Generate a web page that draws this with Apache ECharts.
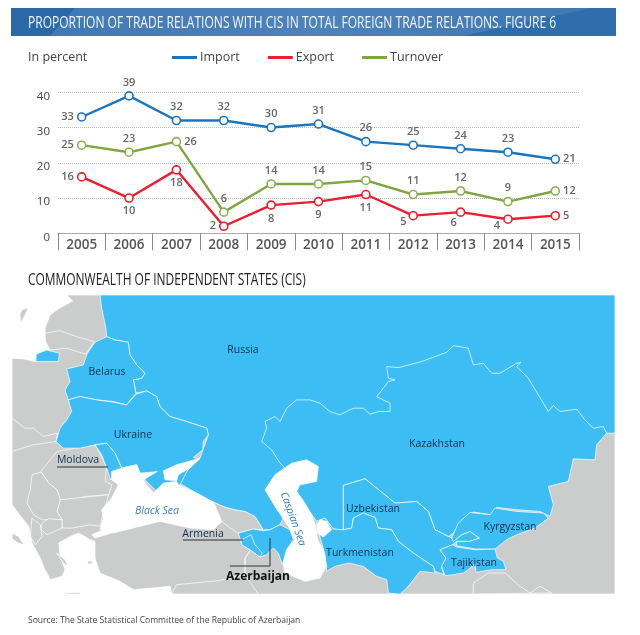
<!DOCTYPE html>
<html><head><meta charset="utf-8">
<style>html,body{margin:0;padding:0;background:#fff}#c{width:640px;height:635px}</style>
<script src="https://cdn.jsdelivr.net/npm/echarts@6/dist/echarts.min.js"></script></head>
<body><div id="c"></div>
<script>
const years=['2005','2006','2007','2008','2009','2010','2011','2012','2013','2014','2015'];
const importVals=[33,39,32,32,30,31,26,25,24,23,21];
const exportVals=[16,10,18,2,8,9,11,5,6,4,5];
const turnoverVals=[25,23,26,6,14,14,15,11,12,9,12];
const yTicks=[0,10,20,30,40];
const titleText='PROPORTION OF TRADE RELATIONS WITH CIS IN TOTAL FOREIGN TRADE RELATIONS. FIGURE 6';
const mapTitle='COMMONWEALTH OF INDEPENDENT STATES (CIS)';
const sourceText='Source: The State Statistical Committee of the Republic of Azerbaijan';

const importPos=['left','top','top','top','top','top','top','top','top','top','right'];
const exportPos=['left','bottom','bottom','left','bottom','bottom','bottom','a','b','c','right'];
const turnoverPos=['left','top','right','top','top','top','top','top','top','top','right'];
const posMap={a:{position:'left',offset:[1,6]},b:{position:'bottom',offset:[-7,-3]},c:{position:'left',offset:[0,7]}};

const BLUE='#3cbef5',GRAY='#cbcccc',WHITE='#ffffff';
// map shapes, in a local geographic-style grid
const shapes=[
 ['Land',GRAY,[[36,90],[1845,90],[1845,988],[36,988]]],
 ['Baltic',WHITE,[[36,90],[200,90],[218,108],[178,130],[150,150],[135,190],[137,230],[152,255],[145,262],[108,268],[105,290],[70,282],[36,280]]],
 ['Gotland',GRAY,[[65,135],[85,128],[75,150],[62,175],[60,150]]],
 ['Latvia',GRAY,[[135,205],[180,197],[230,215],[282,230],[258,268],[200,250],[150,255],[137,230]]],
 ['Czechia',GRAY,[[36,460],[75,490],[100,490],[130,515],[172,505],[168,530],[100,540],[36,560]]],
 ['Romania',GRAY,[[123,620],[171,560],[286,540],[319,605],[316,650],[336,660],[326,690],[256,695],[216,710],[181,705],[171,675],[146,655]]],
 ['Bulgaria',GRAY,[[181,705],[256,697],[326,690],[306,760],[301,785],[271,780],[216,790],[186,790],[186,765],[171,740]]],
 ['Serbia',GRAY,[[96,630],[123,622],[146,655],[171,675],[181,705],[171,740],[186,765],[126,765],[101,750],[81,715],[91,675]]],
 ['Macedonia',GRAY,[[126,775],[146,762],[186,765],[186,790],[141,810],[124,795]]],
 ['Albania',GRAY,[[96,760],[121,780],[126,815],[106,840],[91,815]]],
 ['Georgia',GRAY,[[675,727],[705,735],[735,740],[765,755],[790,795],[760,793],[715,805],[690,790],[665,770],[640,712]]],
 ['TurkeyEast',GRAY,[[750,858],[735,880],[735,930],[735,880]]],
 ['Syria',GRAY,[[515,988],[530,960],[655,948],[735,930],[775,988]]],
 ['Pakistan',GRAY,[[1420,988],[1420,955],[1465,925],[1515,925],[1560,965],[1590,985],[1620,965],[1655,985]]],
 ['Russia',BLUE,[[300,90],[1845,90],[1845,505],[1820,505],[1700,500],[1000,550],[900,650],[840,780],[810,795],[790,795],[765,755],[735,740],[705,735],[675,727],[640,712],[580,680],[530,650],[560,620],[600,580],[625,510],[620,490],[560,470],[510,455],[480,425],[470,395],[440,378],[408,385],[400,345],[425,340],[435,325],[410,300],[390,270],[385,232],[345,225],[320,215],[318,190],[305,130]]],
 ['Kaliningrad',BLUE,[[108,268],[140,255],[178,265],[175,290],[108,290]]],
 ['Belarus',BLUE,[[200,312],[250,300],[262,265],[285,232],[320,215],[345,225],[385,232],[390,270],[410,300],[435,325],[425,340],[400,345],[408,385],[380,420],[340,410],[290,405],[240,395],[205,405],[195,375],[210,350]]],
 ['Ukraine',BLUE,[[205,405],[240,395],[290,405],[340,412],[380,420],[408,388],[440,378],[470,395],[480,425],[510,455],[560,470],[620,490],[625,510],[610,530],[608,555],[580,578],[600,582],[565,612],[540,660],[480,690],[440,650],[420,625],[410,600],[365,610],[345,565],[320,535],[285,540],[240,550],[190,550],[168,530],[180,490],[200,465],[215,440]]],
 ['Moldova',BLUE,[[285,540],[320,535],[345,565],[365,610],[332,645],[320,610],[305,570]]],
 ['Kazakhstan',BLUE,[[855,610],[840,595],[815,555],[785,530],[800,490],[795,470],[825,455],[840,470],[860,430],[890,405],[930,405],[960,415],[990,440],[1020,450],[1060,430],[1090,430],[1110,448],[1135,440],[1170,440],[1170,415],[1130,395],[1150,370],[1165,350],[1185,345],[1165,340],[1160,305],[1195,308],[1265,290],[1340,262],[1360,242],[1405,250],[1420,300],[1450,295],[1475,325],[1500,325],[1550,295],[1563,292],[1550,305],[1585,340],[1645,440],[1660,422],[1680,440],[1730,433],[1755,465],[1780,490],[1810,485],[1820,505],[1790,540],[1785,585],[1720,582],[1705,650],[1645,665],[1660,720],[1650,755],[1620,740],[1550,735],[1490,728],[1475,750],[1420,742],[1395,765],[1355,810],[1345,815],[1305,795],[1285,740],[1250,710],[1185,715],[1095,642],[1030,662],[1030,795],[1000,793],[975,760],[950,770],[900,700]]],
 ['Uzbekistan',BLUE,[[1030,662],[1095,642],[1185,715],[1250,710],[1285,740],[1305,795],[1345,815],[1355,820],[1360,830],[1385,810],[1410,800],[1438,820],[1410,830],[1370,830],[1358,840],[1320,855],[1338,880],[1325,910],[1332,930],[1305,920],[1300,905],[1240,865],[1195,830],[1175,795],[1135,790],[1125,758],[1090,745],[1060,760],[1055,790],[1030,795]]],
 ['Turkmenistan',BLUE,[[1030,795],[1055,790],[1060,760],[1090,745],[1125,758],[1135,790],[1175,795],[1195,830],[1240,865],[1300,905],[1305,925],[1260,920],[1220,970],[1200,988],[1165,985],[1160,945],[1130,935],[1090,905],[1045,895],[1005,905],[980,920],[975,870],[955,800],[950,770],[975,760],[1000,793]]],
 ['Kyrgyzstan',BLUE,[[1355,820],[1375,775],[1410,743],[1470,750],[1485,730],[1550,740],[1630,745],[1645,760],[1605,790],[1550,810],[1520,825],[1485,853],[1425,853],[1370,843],[1370,830],[1410,830],[1438,820],[1410,800],[1385,810],[1360,830]]],
 ['Tajikistan',BLUE,[[1320,855],[1358,840],[1370,847],[1425,855],[1485,853],[1492,880],[1510,890],[1518,915],[1475,915],[1428,923],[1425,897],[1405,915],[1390,925],[1360,930],[1335,933],[1325,905],[1338,880]]],
 ['Azerbaijan',BLUE,[[715,805],[760,793],[790,798],[810,795],[840,780],[870,795],[880,825],[860,855],[847,900],[835,865],[820,850],[800,870],[780,877],[750,855],[725,840]]],
 ['Armenia',BLUE,[[725,825],[753,810],[765,840],[787,865],[780,877],[750,855],[725,840]]],
 ['BlackSea',WHITE,[[305,735],[335,700],[355,660],[335,645],[335,620],[365,610],[410,600],[420,625],[455,622],[472,620],[430,645],[445,665],[460,685],[490,655],[530,650],[535,660],[580,680],[640,712],[665,770],[640,795],[570,790],[480,770],[400,790],[340,805],[300,795],[310,760]]],
 ['Azov',WHITE,[[490,618],[530,600],[600,580],[565,612],[535,630],[530,648],[495,645]]],
 ['Marmara',WHITE,[[285,820],[345,802],[310,795],[275,810]]],
 ['Med',WHITE,[[36,720],[86,785],[96,835],[121,880],[130,905],[151,945],[186,935],[195,915],[181,875],[176,835],[211,815],[236,805],[271,825],[285,830],[285,880],[300,925],[360,950],[400,975],[510,965],[515,988],[36,988]]],
 ['Heel',GRAY,[[36,805],[55,815],[72,840],[55,835],[36,822]]],
 ['Crete',GRAY,[[195,985],[240,983],[240,988],[195,988]]],
 ['Evia',GRAY,[[170,865],[195,885],[205,905],[190,895]]],
 ['Isle',GRAY,[[262,890],[275,888],[278,897],[265,898]]],
 ['Caspian',WHITE,[[795,675],[825,630],[875,595],[920,585],[955,605],[950,650],[900,660],[890,680],[915,715],[935,750],[947,785],[953,825],[970,855],[980,905],[960,940],[915,950],[855,925],[850,900],[860,855],[885,825],[865,785],[825,725]]],
 ['KaraBogaz',WHITE,[[950,780],[960,765],[980,770],[995,795],[970,817],[953,805]]]
];
const leaders=[[[57,467],[108,467]],[[183,540],[243,540]],[[230,566],[270,566]],[[270,538],[270,566]]];
const mapLabels=[
 ['Russia',243,350],['Belarus',107,372],['Ukraine',133,435],['Kazakhstan',437,444],['Uzbekistan',373,509],
 ['Turkmenistan',360,553],['Kyrgyzstan',510,527],['Tajikistan',474,563],['Moldova',78,460],['Armenia',203,534]
];

const geoJson={type:'FeatureCollection',features:shapes.map(s=>({type:'Feature',properties:{name:s[0]},
  geometry:{type:'Polygon',coordinates:[s[2].concat([s[2][0]]).map(p=>[p[0],-p[1]])]}}))};
echarts.registerMap('cis',geoJson);

function pts(vals,pos){return vals.map((v,i)=>{
  const p=posMap[pos[i]]||{position:pos[i]};
  return {value:v,label:p};});}
const IMPORT='#1b75bc',EXPORT='#ed1c2e',TURNOVER='#7fa63f';
const mkSeries=(name,color,vals,pos,border)=>({
  name,type:'line',data:pts(vals,pos),symbol:'circle',symbolSize:8,showSymbol:true,
  lineStyle:{color,width:2.4},itemStyle:{color:'#fff',borderColor:border||color,borderWidth:1.6},
  label:{show:true,color:'#666',fontFamily:'Open Sans',fontSize:11,fontWeight:600,distance:3},
  animation:false,z:3});

const txt=(text,x,y,size,color,o)=>Object.assign({type:'text',x,y,z:20,scaleX:(o&&o.sx)||1,rotation:(o&&o.rot)||0,
  style:{text,fill:color,fontSize:size,fontFamily:(o&&o.ff)||'Open Sans',fontWeight:(o&&o.fw)||'normal',fontStyle:(o&&o.fs)||'normal',
  align:(o&&o.al)||'left',verticalAlign:'middle'}});

const graphics=[
 {type:'rect',z:1,shape:{x:11,y:8,width:605,height:28},style:{fill:{type:'linear',x:0,y:0,x2:1,y2:0,colorStops:[{offset:0,color:'#3f78b3'},{offset:0.5,color:'#4d82bb'},{offset:1,color:'#3d77b2'}]}}},
 {type:'polygon',z:2,shape:{points:[[11,8],[75,8],[50,36],[11,36]]},style:{fill:'#2a68a8'}},
 {type:'polygon',z:2,shape:{points:[[592,8],[616,8],[616,36],[462,36]]},style:{fill:'#2f6dac'}},
 txt(titleText,28,23,16,'#f2f6fb',{sx:0.752}),
 txt('In percent',28,57,12.5,'#444'),
 txt(mapTitle,28,280,16,'#222',{sx:0.747}),
 txt(sourceText,28,620,9.5,'#444',{sx:0.90}),
 ...leaders.map(l=>({type:'line',z:19,shape:{x1:l[0][0],y1:l[0][1],x2:l[1][0],y2:l[1][1]},style:{stroke:'#333',lineWidth:1}})),
 ...mapLabels.map(l=>txt(l[0],l[1],l[2],10.5,'#10304e',{al:'center'})),
 txt('Azerbaijan',258,577,12,'#111',{al:'center',fw:'bold'}),
 txt('Black Sea',157,511,10.5,'#3a7fb8',{al:'center',fs:'italic'}),
 txt('Caspian Sea',293,519,10.5,'#3a7fb8',{al:'center',fs:'italic',rot:-70*Math.PI/180})
];

const chart=echarts.init(document.getElementById('c'),null,{renderer:'canvas'});
chart.setOption({
 animation:false,backgroundColor:'#fff',
 legend:{left:172,top:51,padding:0,itemWidth:25,itemHeight:3,itemGap:28,icon:'rect',
  textStyle:{color:'#444',fontSize:12.5,fontFamily:'Open Sans',padding:[0,0,0,-2]},
  data:[{name:'Import',itemStyle:{color:IMPORT,borderWidth:0}},{name:'Export',itemStyle:{color:EXPORT,borderWidth:0}},{name:'Turnover',itemStyle:{color:TURNOVER,borderWidth:0}}]},
 grid:{left:58,right:61,top:92.3,bottom:401.7},
 xAxis:{type:'category',data:years,boundaryGap:true,
  axisLine:{lineStyle:{color:'#aaa',width:1}},axisTick:{show:true,length:17,lineStyle:{color:'#888'}},
  axisLabel:{color:'#555',fontSize:13.5,fontWeight:600,fontFamily:'Open Sans',margin:5}},
 yAxis:{type:'value',min:0,max:40,interval:10,
  axisLine:{show:false},axisTick:{show:false},
  axisLabel:{color:'#444',fontSize:11.5,fontFamily:'Open Sans',margin:8,verticalAlign:'top',lineHeight:8,
    formatter:v=>yTicks.includes(v)?String(v):''},
  splitLine:{lineStyle:{color:'#bbb',type:'dotted'}}},
 geo:{map:'cis',silent:true,roam:false,aspectScale:1,left:12,top:295,width:603,height:299,
  boundingCoords:[[36,-90],[1845,-988]],
  itemStyle:{areaColor:GRAY,borderColor:'#fff',borderWidth:0.7},
  label:{show:false},emphasis:{disabled:true},
  regions:shapes.map(s=>({name:s[0],itemStyle:{areaColor:s[1]}}))},
 series:[mkSeries('Import',IMPORT,importVals,importPos),mkSeries('Export',EXPORT,exportVals,exportPos),mkSeries('Turnover',TURNOVER,turnoverVals,turnoverPos,'#8fae4f')],
 graphic:graphics
});
</script></body></html>
